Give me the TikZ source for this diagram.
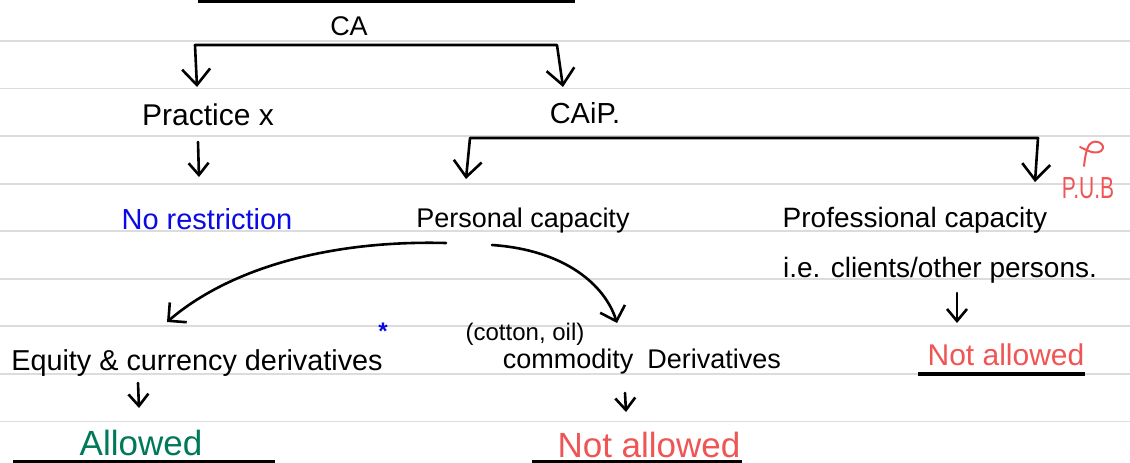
\documentclass[tikz,border=0pt]{standalone}
\usepackage{fontspec}
\setmainfont{Liberation Sans}
\usetikzlibrary{arrows.meta}
\definecolor{rulegray}{RGB}{220,220,220}
\definecolor{inkblue}{RGB}{10,10,230}
\definecolor{inkgreen}{RGB}{0,120,90}
\definecolor{inkred}{RGB}{240,85,85}
\newcommand{\fsz}[1]{\fontsize{#1}{#1}\selectfont}

\begin{document}
\begin{tikzpicture}[x=1pt,y=-1pt,
  ink/.style={line width=2.6pt, line cap=round, line join=round},
  bigarr/.style={ink, {Straight Barb[length=16pt,width=28pt]}-{Straight Barb[length=16pt,width=28pt]}},
  smallarr/.style={ink, -{Straight Barb[length=12pt,width=20pt]}},
  curvearr/.style={ink, -{Straight Barb[length=13pt,width=26pt]}},
  underline/.style={line width=3.2pt},
  lbl/.style={inner sep=0pt, anchor=base}]

% paper with ruled lines
\fill[white] (0,0) rectangle (1130,463);
\useasboundingbox (0,0) rectangle (1130,463);
\foreach \k in {0,...,8}
  \draw[rulegray, line width=1.8pt] (0,{41+47.55*\k}) -- (1130,{41+47.55*\k});

% heading rule
\coordinate (topL) at (198,1);
\coordinate (topR) at (575,1);
\draw[underline] (topL) -- (topR);

% labels
\node[lbl, font=\fsz{27}] (ca) at (349,35) {CA};
\node[lbl, font=\fsz{30}] (prac) at (208,125) {Practice x};
\node[lbl, font=\fsz{29}] (caip) at (585,123) {CAiP.};
\node[lbl, font=\fsz{29}, text=inkblue] (norest) at (207,229) {No restriction};
\node[lbl, font=\fsz{27}] (pers) at (523,227) {Personal capacity};
\node[lbl, font=\fsz{28}] (prof) at (915,227) {Professional capacity};
\node[lbl, font=\fsz{28}] (ie) at (940,277) {i.e. clients/other persons.};
\node[lbl, font=\fsz{21}, text=inkred] (pub) at (1088,198) {\scalebox{1}[1.45]{P.U.B}};
\node[lbl, font=\fsz{28.8}] (eq) at (197,370) {Equity \& currency derivatives};
\node[font=\bfseries\fsz{24}, text=inkblue, inner sep=0pt] (star) at (383,331) {*};
\node[lbl, font=\fsz{35}, text=inkgreen] (allow) at (141,455) {Allowed};
\node[lbl, font=\fsz{24}] (cotton) at (525,340) {(cotton, oil)};
\node[lbl, font=\fsz{27}] (comm) at (642,368) {commodity\hspace{14pt}Derivatives};
\node[lbl, font=\fsz{35}, text=inkred] (nab) at (649,457) {Not allowed};
\node[lbl, font=\fsz{30}, text=inkred] (nar) at (1006,365) {Not allowed};

% mark above P.U.B
\draw[inkred, line width=2pt, line cap=round]
  (1084,166) .. controls (1085,158) and (1086,150) .. (1089,145)
  .. controls (1095,137) and (1108,145) .. (1101,151)
  .. controls (1095,155) and (1086,150) .. (1080,147);

% CA bracket
\coordinate (caTipL) at (197,87);
\coordinate (caBarL) at (195,45);
\coordinate (caBarR) at (557,45);
\coordinate (caTipR) at (563,87);
\draw[bigarr] (caTipL) -- (caBarL) -- (caBarR) -- (caTipR);

% CAiP bracket
\coordinate (cpTipL) at (466,179);
\coordinate (cpBarL) at (470,138);
\coordinate (cpBarR) at (1038,138);
\coordinate (cpTipR) at (1035,182);
\draw[bigarr] (cpTipL) -- (cpBarL) -- (cpBarR) -- (cpTipR);

% short arrows
\coordinate (pracA) at (198,142);
\coordinate (pracB) at (199,177);
\draw[smallarr] (pracA) -- (pracB);
\coordinate (eqA) at (138,383);
\coordinate (eqB) at (139,408);
\draw[smallarr] (eqA) -- (eqB);
\coordinate (commA) at (625,393);
\coordinate (commB) at (626,412);
\draw[smallarr] (commA) -- (commB);
\coordinate (ieA) at (957,293);
\coordinate (ieB) at (957,323);
\draw[smallarr] (ieA) -- (ieB);

% curved branches from personal capacity
\coordinate (persL) at (446,243);
\coordinate (persR) at (492,245);
\coordinate (eqTip) at (167,322);
\coordinate (commTip) at (617,323);
\draw[curvearr] (persL) .. controls (330,240) and (230,268) .. (eqTip);
\draw[curvearr] (persR) .. controls (565,250) and (605,285) .. (commTip);

% underlines
\coordinate (ulAL) at (13,462);
\coordinate (ulAR) at (275,462);
\draw[underline] (ulAL) -- (ulAR);
\coordinate (ulBL) at (532,462);
\coordinate (ulBR) at (742,462);
\draw[underline] (ulBL) -- (ulBR);
\coordinate (ulCL) at (918,374);
\coordinate (ulCR) at (1085,374);
\draw[underline] (ulCL) -- (ulCR);
\end{tikzpicture}
\end{document}
